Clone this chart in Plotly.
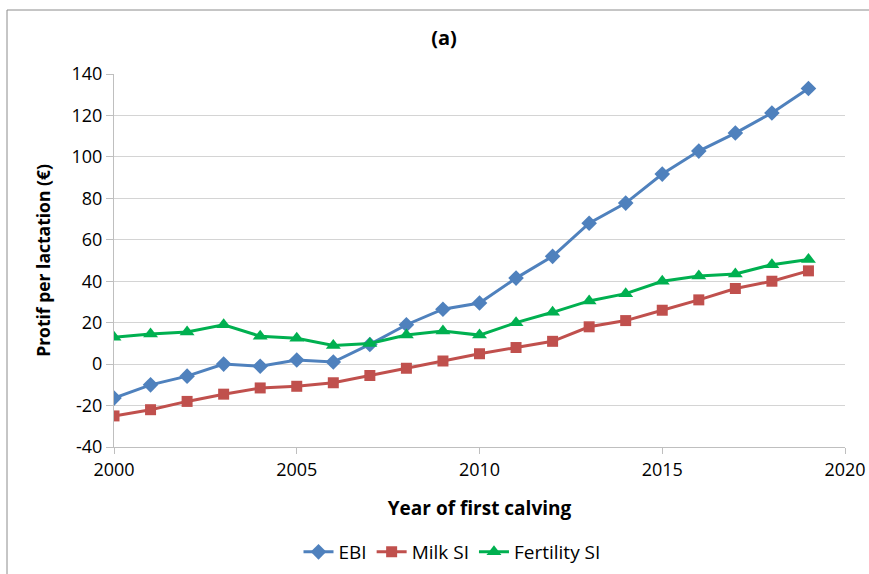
import plotly.graph_objects as go

years = list(range(2000, 2020))
ebi = [-16.4, -10, -5.8, 0, -1, 2, 1, 9.5, 19, 26.5, 29.5, 41.5, 52, 68, 77.7, 91.7, 102.8, 111.5, 121.2, 133]
milk_si = [-25, -22, -18, -14.5, -11.5, -10.7, -9, -5.5, -2, 1.5, 5, 8, 11, 18, 21, 26, 31, 36.5, 40, 45]
fert_si = [13, 14.5, 15.5, 19, 13.5, 12.5, 9, 10, 14, 16, 14, 20, 25, 30.5, 34, 40, 42.5, 43.5, 48, 50.5]
y_ticks = [-40, -20, 0, 20, 40, 60, 80, 100, 120, 140]
y_ticklabels = [str(v) for v in y_ticks]
x_ticks = [2000, 2005, 2010, 2015, 2020]

FONT = "Open Sans"
W, H = 869, 574
L, R, T, B = 114, 845, 74, 447

fig = go.Figure()
fig.add_trace(go.Scatter(x=years, y=ebi, name="EBI", mode="lines+markers",
                         line=dict(color="#4F81BD", width=3),
                         marker=dict(symbol="diamond", size=12, color="#4F81BD")))
fig.add_trace(go.Scatter(x=years, y=milk_si, name="Milk SI", mode="lines+markers",
                         line=dict(color="#C0504D", width=3),
                         marker=dict(symbol="square", size=11, color="#C0504D")))
fig.add_trace(go.Scatter(x=years, y=fert_si, name="Fertility SI", mode="lines+markers",
                         line=dict(color="#00B050", width=3),
                         marker=dict(symbol="triangle-up", size=13, color="#00B050")))

def px(xp):
    return (xp - L) / (R - L)

def py(yp):
    return (B - yp) / (B - T)

fig.update_layout(
    width=W, height=H,
    margin=dict(l=L, r=W - R, t=T, b=H - B, autoexpand=False),
    paper_bgcolor="white", plot_bgcolor="white",
    font=dict(family=FONT, size=18, color="#000000"),
    title=dict(text="<b>(a)</b>", x=(444) / W, xanchor="center", y=1 - 38 / H, yanchor="middle",
               font=dict(family=FONT, size=20, color="#000")),
    xaxis=dict(range=[2000, 2020], tickvals=x_ticks,
               showgrid=False, showline=True, linecolor="#BFBFBF", linewidth=1,
               ticks="outside", ticklen=6, tickcolor="#BFBFBF",
               title=dict(text="<b>Year of first calving</b>", font=dict(size=19), standoff=22),
               zeroline=False, tickfont=dict(size=18), automargin=False),
    yaxis=dict(range=[-40, 140], tickvals=y_ticks, ticktext=y_ticklabels,
               showgrid=True, gridcolor="#D4D4D4", gridwidth=1,
               showline=True, linecolor="#BFBFBF", linewidth=1,
               ticks="outside", ticklen=7, tickcolor="#BFBFBF",
               title=dict(text="<b>Protif per lactation (€)</b>", font=dict(size=17.5), standoff=16),
               zeroline=False, tickfont=dict(size=18), automargin=False),
    legend=dict(orientation="h", x=(452 - L) / (R - L), xanchor="center", y=py(552), yanchor="middle",
                font=dict(size=19), traceorder="normal", itemwidth=30),
    shapes=[dict(type="rect", xref="paper", yref="paper",
                 x0=px(7), x1=px(880), y0=py(590), y1=py(10),
                 line=dict(color="#8C8C8C", width=1), fillcolor="rgba(0,0,0,0)", layer="below")],
)

fig.write_html("out.html", config={"displayModeBar": False},
               post_script="document.body.style.margin='0';document.body.style.overflow='hidden';")
